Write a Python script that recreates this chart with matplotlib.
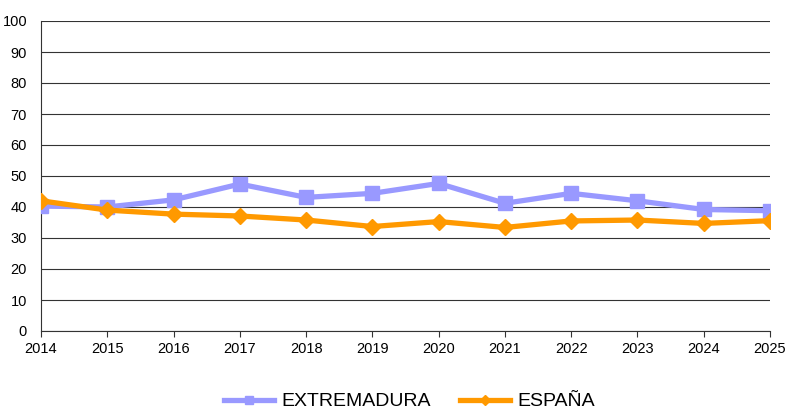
import numpy as np
import matplotlib
matplotlib.use('Agg')
import matplotlib.pyplot as plt

plt.rcParams['font.family'] = ['Liberation Sans', 'DejaVu Sans']

years = [2014, 2015, 2016, 2017, 2018, 2019, 2020, 2021, 2022, 2023, 2024, 2025]
extremadura = [40.3, 40.0, 42.3, 47.4, 43.1, 44.4, 47.6, 41.2, 44.4, 42.0, 39.2, 38.8]
espana = [42.0, 39.0, 37.7, 37.1, 35.8, 33.7, 35.3, 33.4, 35.5, 35.8, 34.7, 35.6]

fig = plt.figure(figsize=(7.89, 4.16), dpi=100)
ax = fig.add_axes([41/789, 1-331/416, (770-41)/789, (331-21)/416])

ax.plot(years, extremadura, color='#9999FF', lw=3.8, marker='s', ms=10,
        label='EXTREMADURA', zorder=3)
ax.plot(years, espana, color='#FF9900', lw=3.8, marker='D', ms=8,
        label='ESPAÑA', zorder=4)

ax.set_xlim(2014, 2025)
ax.set_ylim(0, 100)
ax.set_xticks(years)
ax.set_yticks(np.arange(0, 101, 10))
ax.yaxis.grid(True, color='#333333', lw=0.8)
ax.set_axisbelow(True)
for s in ['top', 'right']:
    ax.spines[s].set_visible(False)
for s in ['left', 'bottom']:
    ax.spines[s].set_color('#333333')
    ax.spines[s].set_linewidth(0.8)
ax.tick_params(axis='y', length=0, labelsize=10.5, pad=10)
ax.tick_params(axis='x', length=4, direction='out', labelsize=10.5, pad=4,
               color='#333333')

ax.legend(loc='lower center', bbox_to_anchor=(0.505, -0.30), ncol=2, frameon=False,
          fontsize=14, handlelength=2.6, handletextpad=0.35, columnspacing=1.5,
          markerscale=0.6, borderpad=0.2)

fig.savefig('out.png', dpi=100)
